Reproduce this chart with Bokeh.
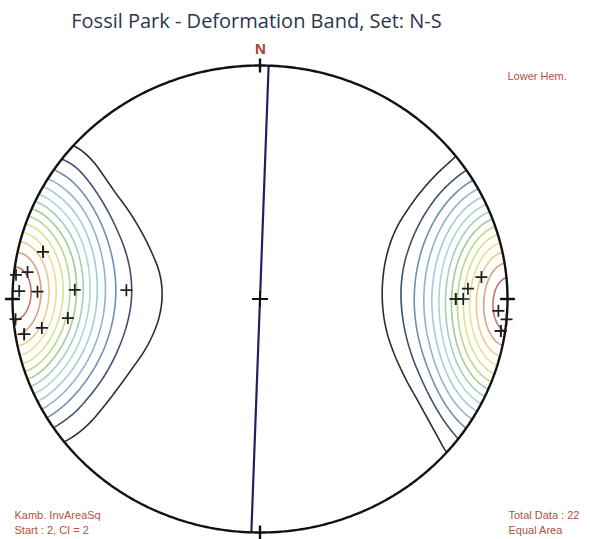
import numpy as np
from bokeh.plotting import figure
from bokeh.models import Range1d, Label
from bokeh.embed import file_html
from bokeh.resources import INLINE

TITLE = "Fossil Park - Deformation Band, Set: N-S"

# Poles to deformation bands: trend / plunge in degrees (lower hemisphere).
# The last four coincide with other poles and plot on top of them.
pole_trend = [283, 276, 277, 272, 272, 273, 265, 264, 262, 261, 274,
              84, 87, 90, 90, 93, 95, 98,
              283, 261, 98, 90]
pole_plunge = [11, 1, 6, 3, 11, 26, 1, 23, 12, 4, 45,
               11, 17, 22, 19, 4, 0, 2,
               11, 4, 2, 22]

# Mean plane drawn as a great circle (strike / dip, degrees)
plane_strike = 2
plane_dip = 90

# Contouring: weighted Kamb counting cone, start 2, interval 2
kamb_sigma = 2.8
weight_power = 2
contour_start = 2
contour_interval = 2
contour_count = 14
peak_value = 29.5

contour_colors = ["#2a2a38", "#414c6e", "#6f8db0", "#8fb4cf", "#a2cadb",
                  "#a9d7d6", "#9fd0b6", "#a0cc92", "#bad88a", "#dbe08c",
                  "#f0de8e", "#f1c78c", "#df9f7c", "#c27464"]

# Stretch of the projection on the page (pixels per unit radius)
PX_X, PX_Y = 247.5, 233.5
CX, CY = 259.5, 298.5
W, H = 590, 539


def project(trend, plunge):
    t = np.radians(np.asarray(trend, float))
    pl = np.radians(np.asarray(plunge, float))
    r = np.sqrt(2.0) * np.sin((np.pi / 2 - pl) / 2)
    return r * np.sin(t), r * np.cos(t)


def to_vec(trend, plunge):
    t = np.radians(np.asarray(trend, float))
    pl = np.radians(np.asarray(plunge, float))
    return np.stack([np.cos(pl) * np.cos(t), np.cos(pl) * np.sin(t), np.sin(pl)], axis=-1)


# density grid on the projection plane
n = 401
gx = np.linspace(-1, 1, n)
gy = np.linspace(-1, 1, n)
GX, GY = np.meshgrid(gx, gy)
R = np.hypot(GX, GY)
Rc = np.clip(R, 0, 1)
g_pl = 90 - 2 * np.degrees(np.arcsin(Rc / np.sqrt(2)))
g_tr = np.degrees(np.arctan2(GX, GY))
G = to_vec(g_tr.ravel(), g_pl.ravel())
P = to_vec(pole_trend, pole_plunge)

N = len(pole_trend)
area = kamb_sigma ** 2 / (N + kamb_sigma ** 2)   # counting area, fraction of hemisphere
cosang = np.abs(G @ P.T)
u = (1 - cosang) / area
w = np.where(u < 1, (1 - u) ** weight_power, 0.0)
D = w.sum(axis=1).reshape(GX.shape)
inside = R <= 1
Z = D / D[inside].max() * peak_value
Z[~inside] = np.nan

levels = [contour_start + contour_interval * k for k in range(contour_count)]

x0, x1 = (0 - CX) / PX_X, (W - CX) / PX_X
y1, y0 = CY / PX_Y, (CY - H) / PX_Y

p = figure(width=W, height=H, x_range=Range1d(x0, x1), y_range=Range1d(y0, y1),
           x_axis_type=None, y_axis_type=None, output_backend="svg",
           toolbar_location=None, min_border=0)
p.xgrid.visible = False
p.ygrid.visible = False
p.outline_line_color = None
p.background_fill_color = "white"

p.contour(x=gx, y=gy, z=Z, levels=levels, line_color=contour_colors,
          line_width=1.6, fill_color=None)

# great circle of the mean plane
s = np.radians(plane_strike)
d = np.radians(plane_dip)
t = np.linspace(0, np.pi, 361)
sv = np.array([np.cos(s), np.sin(s), 0.0])
dv = np.array([np.cos(d) * np.cos(s + np.pi / 2), np.cos(d) * np.sin(s + np.pi / 2), np.sin(d)])
V = np.outer(np.cos(t), sv) + np.outer(np.sin(t), dv)
gc_pl = np.degrees(np.arcsin(np.clip(V[:, 2], -1, 1)))
gc_tr = np.degrees(np.arctan2(V[:, 1], V[:, 0]))
gcx, gcy = project(gc_tr, gc_pl)
p.line(gcx, gcy, line_color="#1d2160", line_width=2.2)

# primitive circle
a = np.linspace(0, 2 * np.pi, 721)
p.line(np.cos(a), np.sin(a), line_color="#111111", line_width=2.4)

# cardinal ticks and centre cross
card = np.radians([0, 90, 180, 270])
p.segment(x0=0.97 * np.sin(card), y0=0.97 * np.cos(card),
          x1=1.03 * np.sin(card), y1=1.03 * np.cos(card),
          line_color="#111111", line_width=2.4)
p.scatter([0], [0], marker="cross", size=16, line_color="#111111", line_width=2)

# poles
px_, py_ = project(pole_trend, pole_plunge)
p.scatter(px_, py_, marker="cross", size=12, line_color="#1e1e1e", line_width=1.7)

red = "#b0533c"
p.add_layout(Label(x=256, y=H - 20, x_units="screen", y_units="screen", text=TITLE,
                   text_align="center", text_baseline="middle", text_font="Open Sans",
                   text_font_size="20px", text_color="#2c3550"))
p.add_layout(Label(x=260, y=H - 48, x_units="screen", y_units="screen", text="N",
                   text_align="center", text_baseline="middle", text_font="Liberation Sans",
                   text_font_size="15px", text_font_style="bold", text_color="#a3442e"))
for txt, lx, ly in [("Lower Hem.", 507, 75), ("Kamb. InvAreaSq", 14, 514),
                    ("Start : 2, CI = 2", 14, 529), ("Total Data : 22", 508, 514),
                    ("Equal Area", 508, 529)]:
    p.add_layout(Label(x=lx, y=H - ly, x_units="screen", y_units="screen", text=txt,
                       text_align="left", text_baseline="middle", text_font="Liberation Sans",
                       text_font_size="11px", text_color=red))

open("out.html", "w").write(file_html(p, INLINE))
